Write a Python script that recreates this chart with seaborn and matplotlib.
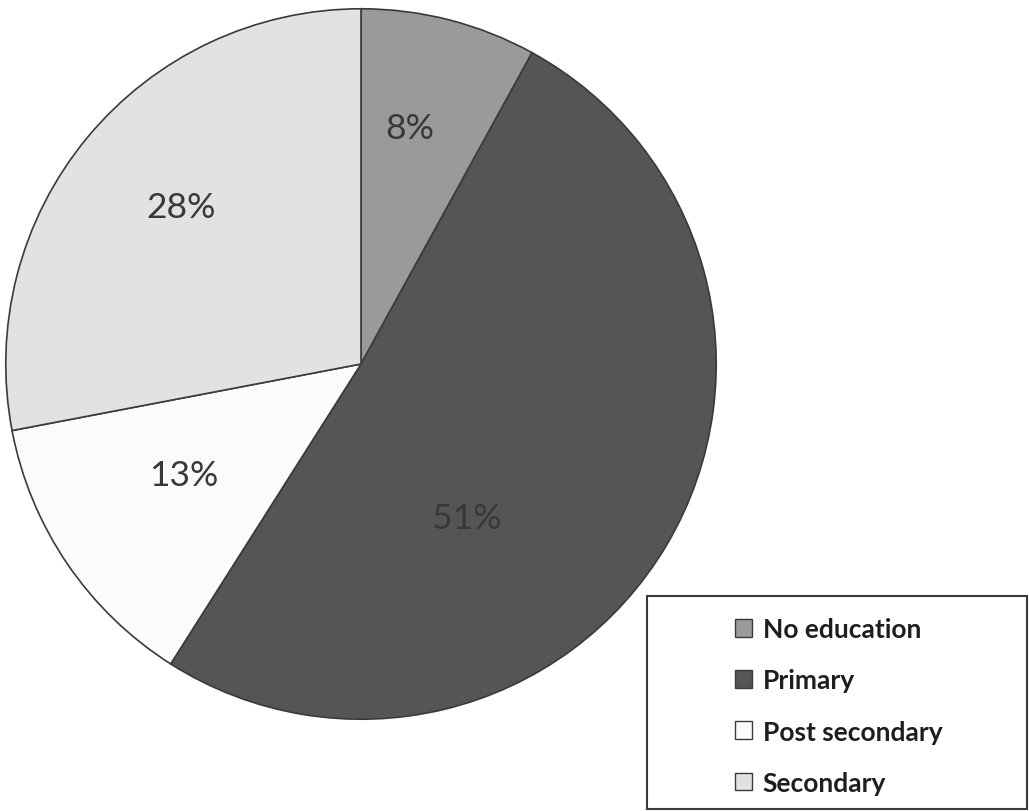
import matplotlib
matplotlib.use("Agg")
import matplotlib.pyplot as plt
import seaborn as sns
import numpy as np
from matplotlib.patches import Rectangle, Patch

sns.set_theme(style="white")
plt.rcParams['font.family'] = ['Lato', 'DejaVu Sans']

categories = ["No education", "Primary", "Post secondary", "Secondary"]
values = [8, 51, 13, 28]
colors = ["#9a9a9a", "#555555", "#fbfbfb", "#e2e2e2"]
# label placements (radial fraction, angle in degrees) as in the original
label_dist = [0.678, 0.526, 0.588, 0.673]
label_ang = [78.3, -55.6, -148.0, 138.9]

fig = plt.figure(figsize=(10.29, 8.12), dpi=100)
fig.patch.set_facecolor("white")
ax = fig.add_axes([4/1029, 90/812, 714/1029, 714/812])

wedges, texts, autotexts = ax.pie(
    values, colors=colors, startangle=90, counterclock=False,
    autopct=lambda p: f"{p:.0f}%", pctdistance=0.6,
    wedgeprops=dict(edgecolor="#3a3a3a", linewidth=1.2),
    textprops=dict(fontsize=25.5, color="#383838"),
    radius=1.0,
)
for t, d, a in zip(autotexts, label_dist, label_ang):
    t.set_position((d*np.cos(np.radians(a)), d*np.sin(np.radians(a))))
ax.set_xlim(-1.005, 1.005)
ax.set_ylim(-1.005, 1.005)
ax.axis("off")

# legend box
fig.patches.append(Rectangle((647/1029, 2/812), 380/1029, 213/812,
                             transform=fig.transFigure, fill=False,
                             edgecolor="#3a3a3a", linewidth=1.5))
handles = [Patch(facecolor=c, edgecolor="#3a3a3a", linewidth=1.0) for c in colors]
leg = fig.legend(handles, categories, loc="upper left",
                 bbox_to_anchor=(722/1029, 1 - 605/812), frameon=False,
                 prop=dict(size=19, weight="bold"), labelcolor="#1e1e1e",
                 handlelength=0.65, handleheight=0.65, handletextpad=0.4,
                 labelspacing=1.03, borderpad=0)

fig.savefig("out.png", dpi=100, facecolor="white")
